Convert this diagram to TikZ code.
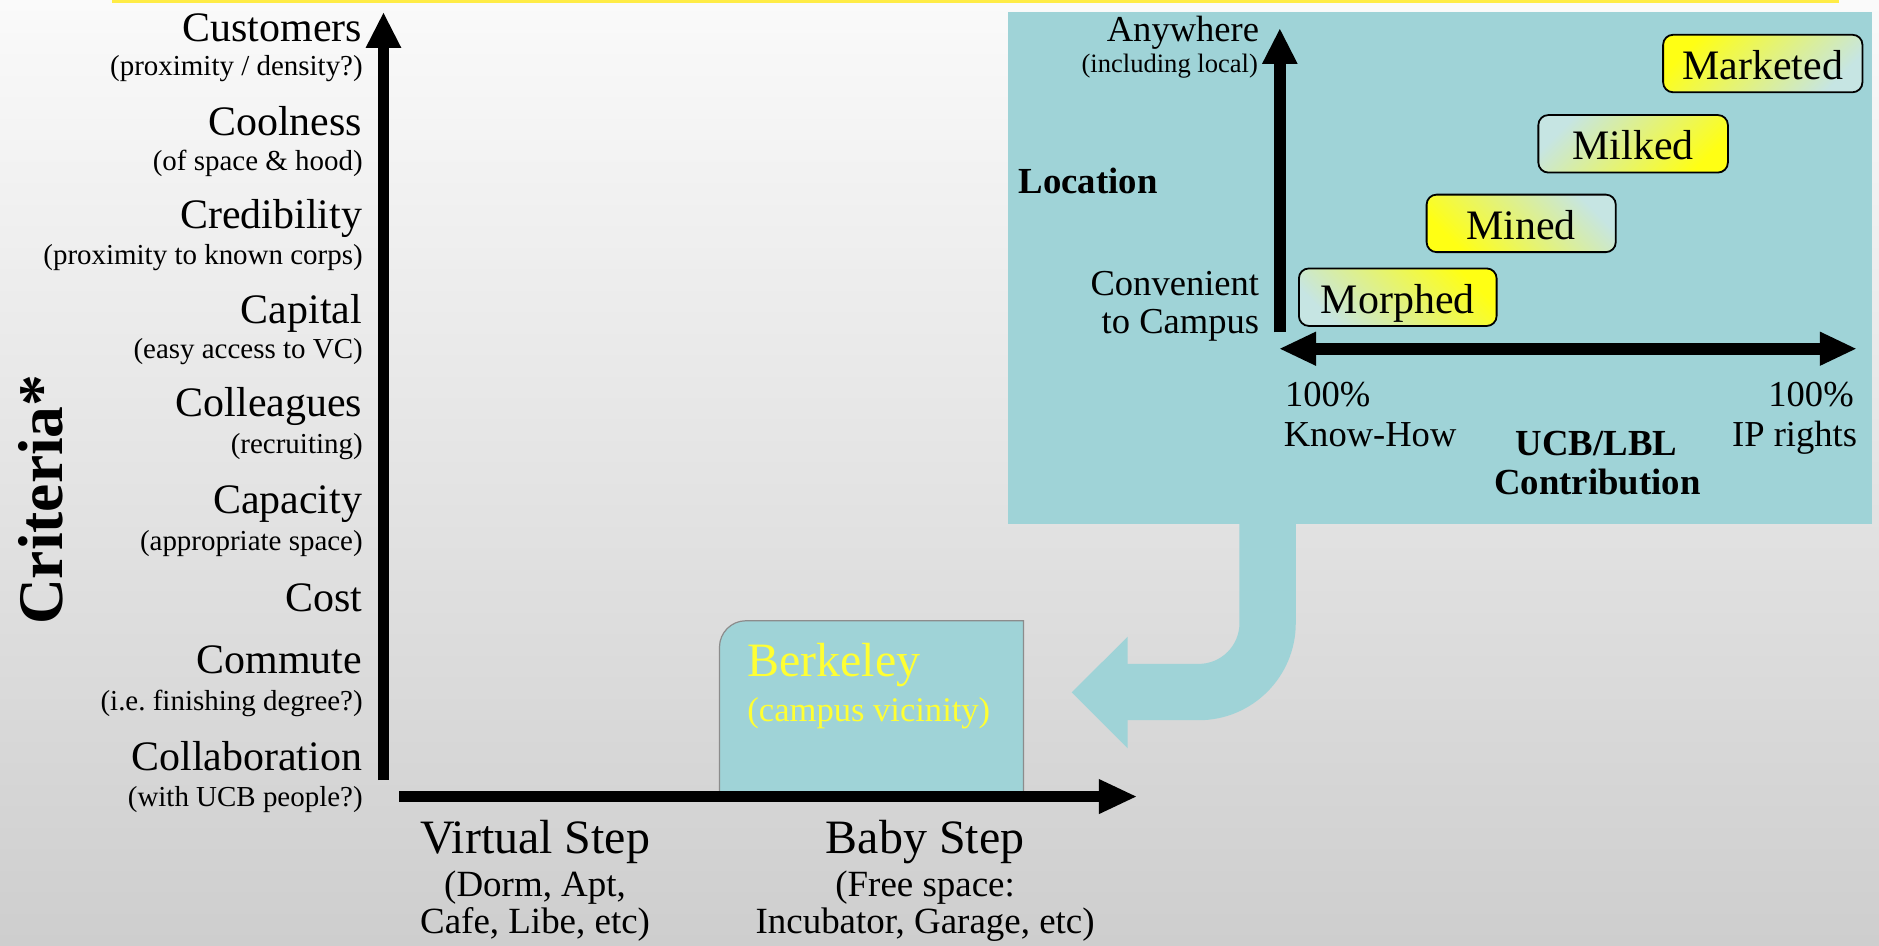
\documentclass[tikz,border=0pt]{standalone}
\usepackage{fontspec}
\setmainfont{Liberation Serif}
\usetikzlibrary{arrows.meta}

\definecolor{panelteal}{RGB}{159,211,215}
\definecolor{hiyellow}{RGB}{255,255,20}
\definecolor{paleteal}{RGB}{198,229,227}
\definecolor{rulegold}{RGB}{255,236,70}
\definecolor{bgtop}{RGB}{250,250,250}
\definecolor{bgbottom}{RGB}{206,206,206}
\definecolor{boxedge}{RGB}{140,140,140}
\definecolor{berkyellow}{RGB}{255,255,51}

\begin{document}
\begin{tikzpicture}[x=0.6pt, y=-0.6pt,
  crit/.style={anchor=base east, inner sep=0pt, font=\fontsize{21}{24}\selectfont},
  critsub/.style={anchor=base east, inner sep=0pt, font=\fontsize{14.5}{17}\selectfont},
  steplabel/.style={anchor=base, inner sep=0pt, font=\fontsize{24}{28}\selectfont},
  stepsub/.style={anchor=base, inner sep=0pt, font=\fontsize{18.5}{22}\selectfont},
  paneltext/.style={inner sep=0pt, font=\fontsize{18.3}{22}\selectfont},
  panelsmall/.style={inner sep=0pt, font=\fontsize{13.3}{16}\selectfont},
  panelbold/.style={inner sep=0pt, font=\bfseries\fontsize{18.4}{22}\selectfont},
  stagebox/.style={draw=black, line width=0.9pt, rounded corners=5pt,
    minimum height=28.8pt, inner sep=0pt, text height=16pt, text depth=0pt,
    font=\fontsize{21}{25}\selectfont},
  axisarrow/.style={line width=5.8pt,
    -{Triangle[length=17.5pt, width=17.9pt, line width=0pt]}},
  teal/.style={fill=panelteal, draw=none}
]
\useasboundingbox (0,0) rectangle (1568,789);

% slide background and top rule
\shade[top color=bgtop, bottom color=bgbottom] (0,0) rectangle (1568,789);
\fill[rulegold] (93.5,0) rectangle (1534.7,2.4);

% ---------------- criteria axis ----------------
\node[rotate=90, anchor=base, inner sep=0pt,
      font=\bfseries\fontsize{31.8}{36}\selectfont] (criteria) at (52,417) {Criteria*};

\node[crit]    (cust)    at (302.5,34.8)  {Customers};
\node[critsub] (custn)   at (303,62.6)    {(proximity / density?)};
\node[crit]    (cool)    at (302.5,112.7) {Coolness};
\node[critsub] (cooln)   at (303,141.9)   {(of space \& hood)};
\node[crit]    (cred)    at (302.5,190.5) {Credibility};
\node[critsub] (credn)   at (303,221)     {(proximity to known corps)};
\node[crit]    (capi)    at (302.5,269.8) {Capital};
\node[critsub] (capin)   at (303,299)     {(easy access to VC)};
\node[crit]    (colg)    at (302.5,347.7) {Colleagues};
\node[critsub] (colgn)   at (303,378.3)   {(recruiting)};
\node[crit]    (capa)    at (302.5,428.4) {Capacity};
\node[critsub] (capan)   at (303,459)     {(appropriate space)};
\node[crit]    (cost)    at (302.5,510.5) {Cost};
\node[crit]    (comm)    at (302.5,561.9) {Commute};
\node[critsub] (commn)   at (303,593)     {(i.e.\ finishing degree?)};
\node[crit]    (colb)    at (302.5,642.6) {Collaboration};
\node[critsub] (colbn)   at (303,673.2)   {(with UCB people?)};

% ---------------- Berkeley box ----------------
\draw[fill=panelteal, draw=boxedge, line width=0.6pt]
  (600.4,664) -- (600.4,540) .. controls (600.4,527.9) and (610.3,518) .. (622.4,518)
  -- (854,518) -- (854,664);
\node[anchor=base west, inner sep=0pt, text=berkyellow,
      font=\fontsize{24}{28}\selectfont] (berk) at (623.4,564.7) {Berkeley};
\node[anchor=base west, inner sep=0pt, text=berkyellow,
      font=\fontsize{17.3}{20}\selectfont] (berkn) at (623.4,602.3) {(campus vicinity)};

% ---------------- main axes ----------------
\coordinate (ytail) at (320,651);
\coordinate (ytip)  at (320,10.8);
\coordinate (xtail) at (333.3,664.7);
\coordinate (xtip)  at (948,664.7);
\draw[axisarrow] (ytail) -- (ytip);
\draw[line width=5.9pt, -{Triangle[length=18.6pt, width=17.6pt, line width=0pt]}] (xtail) -- (xtip);

\node[steplabel] (virt)  at (446.5,712)   {Virtual Step};
\node[stepsub]   (virt1) at (446.5,748.3) {(Dorm, Apt,};
\node[stepsub]   (virt2) at (446.5,779)   {Cafe, Libe, etc)};
\node[steplabel] (baby)  at (772,712)     {Baby Step};
\node[stepsub]   (baby1) at (772,748.3)   {(Free space:};
\node[stepsub]   (baby2) at (772,779)     {Incubator, Garage, etc)};

% ---------------- spin-off panel ----------------
\fill[panelteal] (841.2,9.7) rectangle (1561.9,437.6);

% bent arrow from the panel down to Berkeley
\path[teal]
  (1034.3,436) -- (1081.3,436) -- (1081.3,520)
  .. controls (1081.3,564.7) and (1045,601) .. (1000.3,601)
  -- (941,601) -- (941,624.5) -- (894.3,577.8) -- (941,531.3) -- (941,554)
  -- (1000.3,554) .. controls (1019.1,554) and (1034.3,538.8) .. (1034.3,520)
  -- cycle;

\coordinate (ptail) at (1068,277.3);
\coordinate (ptip)  at (1068,24.2);
\coordinate (hleft)  at (1068.2,291);
\coordinate (hright) at (1548.6,291);
\draw[axisarrow] (ptail) -- (ptip);
\draw[line width=6.2pt,
      {Triangle[length=18pt, width=17.2pt, line width=0pt]}-{Triangle[length=18pt, width=17.2pt, line width=0pt]}]
  (hleft) -- (hright);

\node[paneltext, anchor=base east]  (anyw)  at (1051,34.8)  {Anywhere};
\node[panelsmall, anchor=base east] (anywn) at (1050,60.6)  {(including local)};
\node[panelbold, anchor=base west]  (loc)   at (849.8,161.3) {Location};
\node[paneltext, anchor=base east]  (conv)  at (1051,246.2) {Convenient};
\node[paneltext, anchor=base east]  (convn) at (1051,278.2) {to Campus};

\node[paneltext, anchor=base west] (kpct) at (1072,339.4)   {100\%};
\node[paneltext, anchor=base west] (know) at (1071,372.2)   {Know-How};
\node[paneltext, anchor=base east] (ipct) at (1547.2,339.4) {100\%};
\node[paneltext, anchor=base east] (ipr)  at (1550,372.8)   {IP rights};
\node[panelbold, anchor=base] (ucb)  at (1332.3,379.7) {UCB/LBL};
\node[panelbold, anchor=base] (contr) at (1333,412.5)  {Contribution};

% stage boxes
\node[stagebox, minimum width=99pt, top color=hiyellow, bottom color=paleteal, shading angle=-45]
  (morph) at (1166.4,248) {Morphed};
\node[stagebox, minimum width=94.7pt, top color=paleteal, bottom color=hiyellow, shading angle=-45]
  (mined) at (1269.4,186.4) {Mined};
\node[stagebox, minimum width=94.9pt, top color=paleteal, bottom color=hiyellow, shading angle=45]
  (milk) at (1362.8,120) {Milked};
\node[stagebox, minimum width=99.8pt, top color=hiyellow, bottom color=paleteal, shading angle=45]
  (mark) at (1471,53) {Marketed};
\end{tikzpicture}
\end{document}
